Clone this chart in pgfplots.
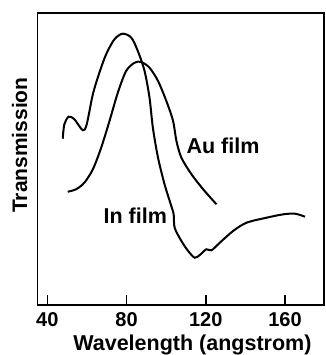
\documentclass[border=0pt]{standalone}
\usepackage{fontspec}
\setmainfont{Liberation Sans}
\usepackage{pgfplots}
\pgfplotsset{compat=1.18}
\begin{document}
\begin{tikzpicture}
\begin{axis}[
  at={(37.3pt,50pt)}, anchor=south west,
  scale only axis, width=286.7pt, height=291.7pt,
  xmin=34.95, xmax=179.7, ymin=0, ymax=291.7,
  axis line style={line width=1.6pt},
  xtick={40,80,120,160}, ytick=\empty,
  xtick pos=lower, tick align=inside,
  major tick length=10pt,
  every tick/.style={black, line width=1.6pt},
  /pgf/number format/assume math mode=true,
  xticklabel style={font=\fontsize{20}{24}\selectfont\bfseries, inner sep=0pt, anchor=north, yshift=-7.5pt},
  xlabel={Wavelength (angstrom)},
  ylabel={Transmission},
  xlabel style={font=\fontsize{21.5}{26}\selectfont\bfseries, at={(axis description cs:0.541,-0.1560)}, anchor=base, inner sep=0pt},
  ylabel style={font=\fontsize{21}{26}\selectfont\bfseries, at={(axis description cs:-0.0359,0.548)}, anchor=base, inner sep=0pt, rotate=0},
  clip=false,
]
% In film
\addplot[black, line width=2pt, smooth, tension=0.5] coordinates {
(47.8,166.3) (48.6,180.7) (50.8,188.3) (53.7,185.7) (57.9,174.7) (59.9,180.7)
(63.0,210.7) (66.3,232.3) (69.7,250.7) (73.9,265.7) (78.1,271.3) (82.4,267.3)
(85.7,254.0) (89.1,234.0) (91.6,207.3) (93.3,177.3) (95.9,147.3) (99.2,120.7)
(102.6,99.0) (103.8,90.7) (104.3,77.3) (107.7,64.0) (111.1,54.0) (114.4,47.3)
(117.0,50.0) (120.3,55.7) (122.9,54.7) (127.1,62.3) (133.8,74.0) (140.6,82.3)
(150.7,87.3) (159.2,90.7) (165.1,91.3) (170.1,88.3)
};
% Au film
\addplot[black, line width=2pt, smooth, tension=0.5] coordinates {
(50.3,113.3) (54.5,115.7) (58.7,122.3) (63.0,135.7) (67.2,157.3) (71.4,184.0)
(75.6,212.3) (79.8,234.0) (84.1,242.3) (87.4,243.0) (91.6,237.3) (95.9,224.0)
(100.1,204.0) (103.5,184.0) (105.2,164.0) (107.7,147.3) (112.8,130.7)
(118.7,115.7) (125.4,100.7)
};
\node[font=\fontsize{21.5}{26}\selectfont\bfseries, inner sep=0pt] at (axis cs:128.7,159) {Au film};
\node[font=\fontsize{21.5}{26}\selectfont\bfseries, inner sep=0pt] at (axis cs:84.4,89.7) {In film};
\end{axis}
\pgfresetboundingbox
\path[use as bounding box] (0,0) rectangle (325pt,355pt);
\end{tikzpicture}
\end{document}
